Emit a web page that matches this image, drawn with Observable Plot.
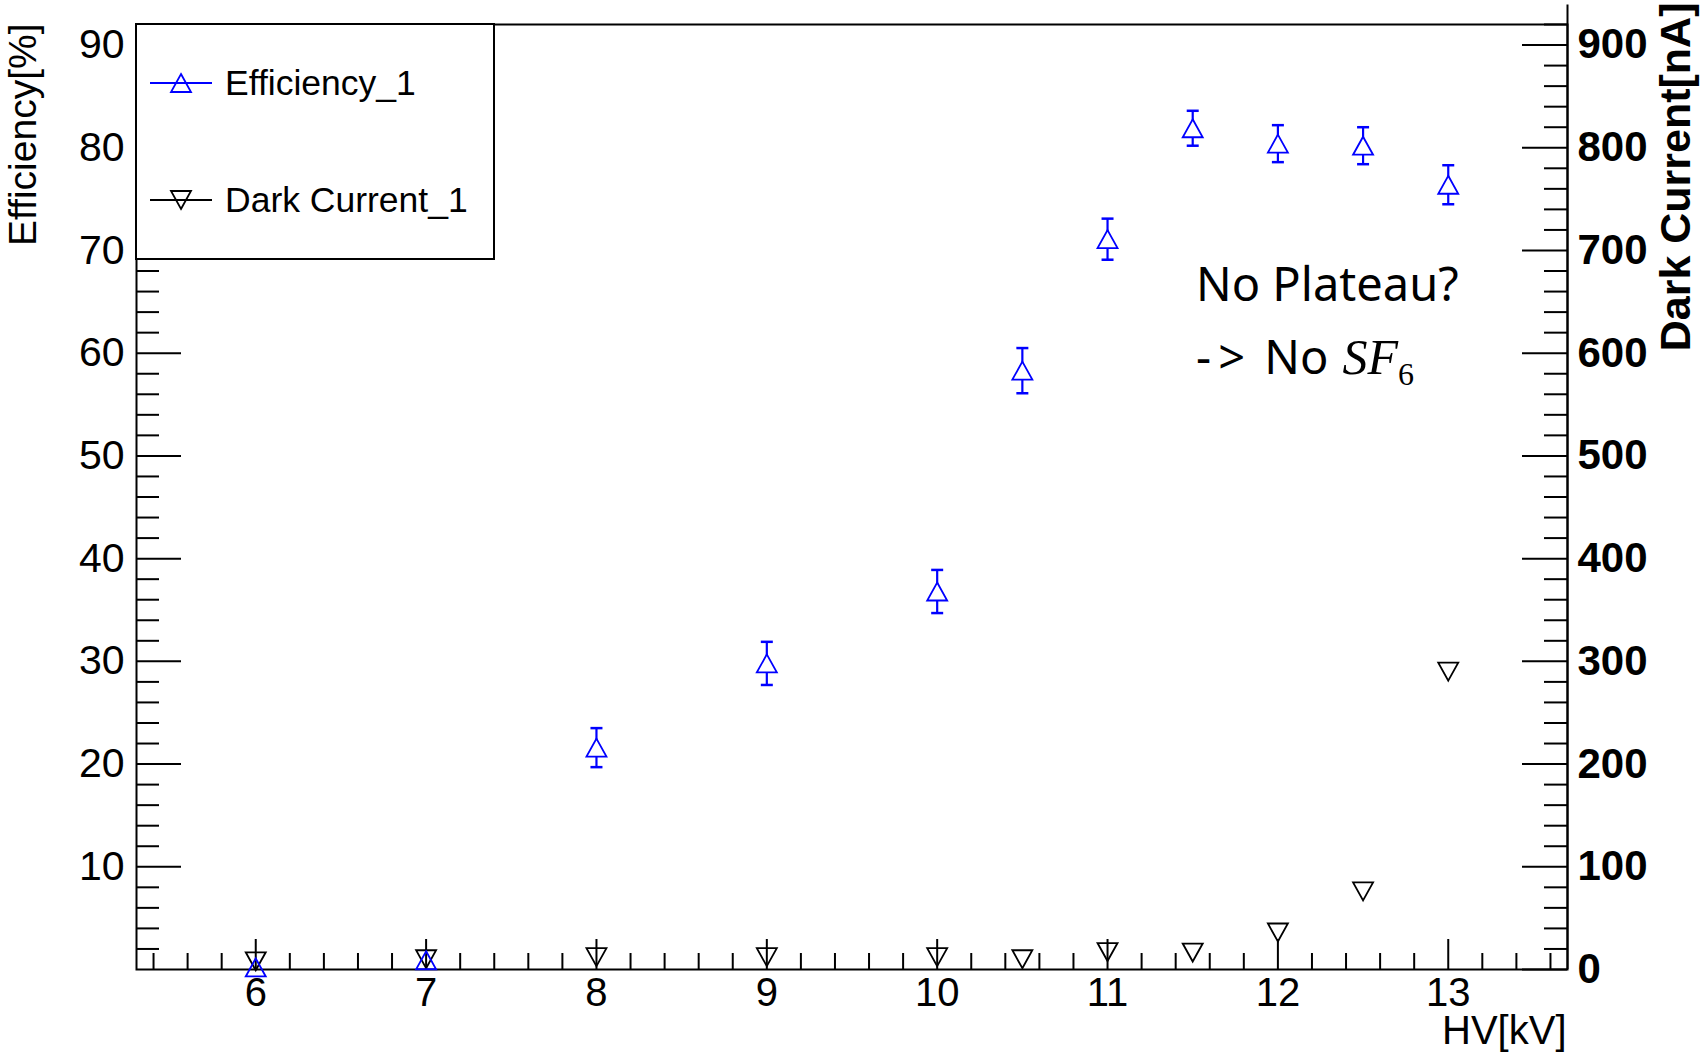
<!DOCTYPE html>
<html>
<head>
<meta charset="utf-8">
<script src="https://cdn.jsdelivr.net/npm/d3@7"></script>
<script src="https://cdn.jsdelivr.net/npm/@observablehq/plot@0.6"></script>
<style>
  html, body { margin: 0; padding: 0; background: #fff; }
  #wrap { position: relative; width: 1704px; height: 1053px; font-family: "Liberation Sans", Arial, sans-serif; }
  #chart svg { display: block; }
  #legend { position: absolute; left: 135px; top: 23px; width: 360px; height: 237px; box-sizing: border-box;
            border: 2px solid #000; background: #fff; }
  .entry { position: absolute; left: 0; width: 350px; height: 40px; }
  .entry svg { position: absolute; left: 10px; top: 0; }
  .entry span { position: absolute; left: 88px; top: 0; line-height: 40px; font-size: 35.5px; color: #000; white-space: nowrap; }
  .note { position: absolute; left: 1196px; font-family: "Noto Sans", sans-serif; font-size: 47px; line-height: 47px; color: #000; white-space: nowrap; }
  .arrow { letter-spacing: 7px; }
  .sf { font-family: "Liberation Serif", "DejaVu Serif", serif; font-style: italic; font-size: 50px; margin-left: 14px; }
  .sub { font-family: "Liberation Serif", "DejaVu Serif", serif; font-style: normal; font-size: 32px; position: relative; top: 11px; }
</style>
</head>
<body>
<div id="wrap">
  <div id="chart"></div>
  <div id="legend"></div>
  <div class="note" style="top:260px">No Plateau?</div>
  <div class="note" style="top:333px"><span class="arrow">-&gt;</span> No<span class="sf">SF<span class="sub">6</span></span></div>
</div>
<script>
// ---- data ----
const hv          = [6, 7, 8, 9, 10, 10.5, 11, 11.5, 12, 12.5, 13];            // HV [kV]
const efficiency  = [0.2, 0.9, 21.6, 29.8, 36.8, 58.3, 71.1, 81.9, 80.4, 80.2, 76.4]; // %
const effError    = [0, 0, 1.9, 2.1, 2.1, 2.2, 2.0, 1.7, 1.8, 1.8, 1.9];       // %
const darkCurrent = [8, 10, 12, 12, 12, 10, 17, 16.5, 36, 76, 290];            // nA

// ---- axes ----
const xDomain = [5.3, 13.7];
const effDomain = [0, 92];
const darkScale = 10;            // right axis nA = left axis % * 10
const rightAxisTop = 939;        // right axis line extends above the frame (nA)
const xMajorTicks = [6, 7, 8, 9, 10, 11, 12, 13];
const xMinorTicks = d3.range(5.4, 13.61, 0.2).map(v => +v.toFixed(1)).filter(v => !Number.isInteger(v));
const leftMajorTicks = [10, 20, 30, 40, 50, 60, 70, 80, 90];
const leftMinorTicks = d3.range(2, 91, 2).filter(v => v % 10 !== 0);
const rightMajorTicks = [0, 100, 200, 300, 400, 500, 600, 700, 800, 900];
const rightMinorTicks = d3.range(20, 921, 20).filter(v => v % 100 !== 0);

const legendItems = [
  {label: "Efficiency_1", color: "#0000ff", dir: "up", top: 38},
  {label: "Dark Current_1", color: "#000000", dir: "down", top: 155}
];

const effData = hv.map((x, i) => ({hv: x, eff: efficiency[i], err: effError[i]}));
const darkData = hv.map((x, i) => ({hv: x, dc: darkCurrent[i]}));

// ROOT-style open triangles, centred on their bounding box
const triUp = {draw(ctx, size) { const r = Math.sqrt(size / Math.PI);
  ctx.moveTo(0, -0.9 * r); ctx.lineTo(r, 0.9 * r); ctx.lineTo(-r, 0.9 * r); ctx.closePath(); }};
const triDown = {draw(ctx, size) { const r = Math.sqrt(size / Math.PI);
  ctx.moveTo(0, 0.9 * r); ctx.lineTo(r, -0.9 * r); ctx.lineTo(-r, -0.9 * r); ctx.closePath(); }};
const capSym = {draw(ctx, size) { const r = Math.sqrt(size / Math.PI);
  ctx.moveTo(-r, 0); ctx.lineTo(r, 0); }};

const withErr = effData.filter(d => d.err > 0);
const noErr = effData.filter(d => d.err === 0);
const blue = "#0000ff";

const W = 1704, H = 1053, mL = 136, mR = 137, mT = 24, mB = 84;
const frameW = W - mL - mR, frameH = H - mT - mB;
const xMajorLen = 30, xMinorLen = 16, yMajorLen = 45, yMinorLen = 23;

const chart = Plot.plot({
  width: W, height: H,
  marginLeft: mL, marginRight: mR, marginTop: mT, marginBottom: mB,
  x: {domain: xDomain, axis: null},
  y: {domain: effDomain, axis: null},
  style: {fontFamily: "'Liberation Sans', Arial, sans-serif", fontSize: "40px", background: "white", color: "black", overflow: "visible"},
  marks: [
    // bottom axis (ticks point inward)
    Plot.ruleX(xMinorTicks, {x: d => d, insetTop: frameH - xMinorLen, strokeWidth: 2}),
    Plot.ruleX(xMajorTicks, {x: d => d, insetTop: frameH - xMajorLen, strokeWidth: 2}),
    Plot.text(xMajorTicks, {x: d => d, text: d => String(d), frameAnchor: "bottom", lineAnchor: "top", dy: 8, fontSize: 40}),
    // left axis
    Plot.ruleY(leftMinorTicks, {y: d => d, insetRight: frameW - yMinorLen, strokeWidth: 2}),
    Plot.ruleY(leftMajorTicks, {y: d => d, insetRight: frameW - yMajorLen, strokeWidth: 2}),
    Plot.text(leftMajorTicks, {y: d => d, text: d => String(d), frameAnchor: "left", textAnchor: "end", dx: -12, fontSize: 41}),
    // right axis (dark current)
    Plot.ruleY(rightMinorTicks, {y: d => d / darkScale, insetLeft: frameW - yMinorLen, strokeWidth: 2}),
    Plot.ruleY(rightMajorTicks, {y: d => d / darkScale, insetLeft: frameW - yMajorLen, strokeWidth: 2}),
    Plot.text(rightMajorTicks, {y: d => d / darkScale, text: d => String(d), frameAnchor: "right", textAnchor: "start", dx: 10, fontWeight: "bold", fontSize: 42}),
    Plot.ruleX([xDomain[1]], {x: d => d, y1: 0, y2: rightAxisTop / darkScale, strokeWidth: 2}),
    Plot.frame({strokeWidth: 2}),
    // axis titles
    Plot.text(["Efficiency[%]"], {text: d => d, frameAnchor: "top-left", rotate: -90, textAnchor: "end", lineAnchor: "bottom", dx: -101, dy: -1, fontSize: 39}),
    Plot.text(["Dark Current[nA]"], {text: d => d, frameAnchor: "top-right", rotate: -90, textAnchor: "end", lineAnchor: "bottom", dx: 122, dy: -22, fontSize: 43, fontWeight: "bold"}),
    Plot.text(["HV[kV]"], {text: d => d, frameAnchor: "bottom-right", textAnchor: "end", lineAnchor: "bottom", dx: -1, dy: 74, fontSize: 40}),
    // dark current
    Plot.dot(darkData, {x: "hv", y: d => d.dc / darkScale, symbol: triDown, r: 10, stroke: "black", fill: "none", strokeWidth: 1.8}),
    // efficiency with error bars
    Plot.ruleX(withErr, {x: "hv", y1: d => d.eff - d.err, y2: d => d.eff + d.err, stroke: blue, strokeWidth: 2.2}),
    Plot.dot(withErr, {x: "hv", y: d => d.eff + d.err, symbol: capSym, r: 6, stroke: blue, strokeWidth: 2.5}),
    Plot.dot(withErr, {x: "hv", y: d => d.eff - d.err, symbol: capSym, r: 6, stroke: blue, strokeWidth: 2.5}),
    Plot.dot(withErr, {x: "hv", y: "eff", symbol: triUp, r: 10, stroke: blue, fill: "white", strokeWidth: 1.8}),
    Plot.dot(noErr, {x: "hv", y: "eff", symbol: triUp, r: 10, stroke: blue, fill: "none", strokeWidth: 1.8})
  ]
});
document.getElementById("chart").appendChild(chart);

// legend (ROOT TLegend style)
const legend = document.getElementById("legend");
for (const item of legendItems) {
  const e = document.createElement("div");
  e.className = "entry";
  e.style.top = item.top + "px";
  const tri = item.dir === "up" ? "M34,11 L44,29 L24,29 Z" : "M34,29 L44,11 L24,11 Z";
  e.innerHTML = `<svg width="70" height="40" viewBox="0 0 70 40">
      <line x1="3" y1="20" x2="65" y2="20" stroke="${item.color}" stroke-width="2"/>
      <path d="${tri}" fill="none" stroke="${item.color}" stroke-width="1.8"/>
    </svg><span>${item.label}</span>`;
  legend.appendChild(e);
}
</script>
</body>
</html>
